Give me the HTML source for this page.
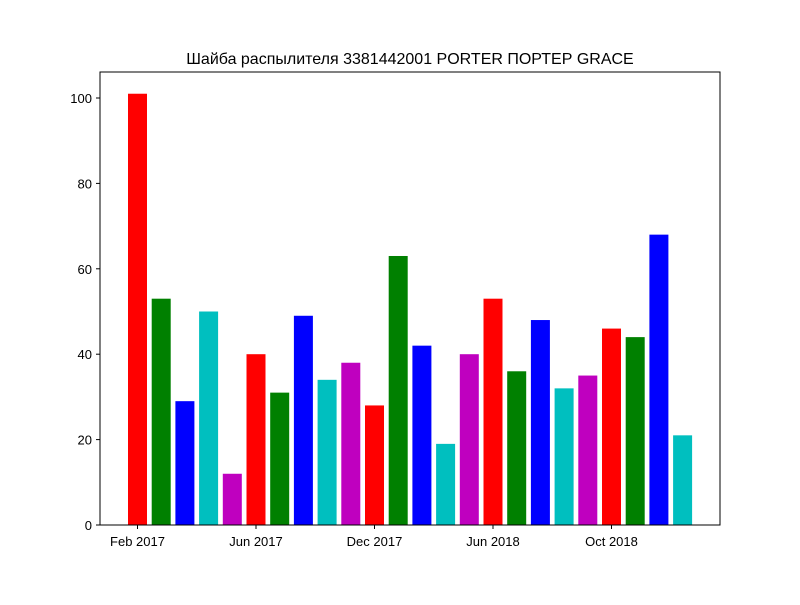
<!DOCTYPE html>
<html><head><meta charset="utf-8"><style>
body{margin:0;background:#fff;}
svg text{font-family:"Liberation Sans","DejaVu Sans",sans-serif;}
</style></head><body>
<svg id="chart" width="800" height="600" xmlns="http://www.w3.org/2000/svg">
<rect width="800" height="600" fill="#fff"/>
<text x="410" y="64" text-anchor="middle" font-size="16">Шайба распылителя 3381442001 PORTER ПОРТЕР GRACE</text>
<g id="bars"></g>
<g id="yaxis"></g>
<g id="xaxis"></g>
<rect x="100" y="72" width="620" height="453" fill="none" stroke="#000" stroke-width="1"/>
</svg>
<script>
const values = [101,53,29,50,12,40,31,49,34,38,28,63,42,19,40,53,36,48,32,35,46,44,68,21];
const colors = ['#ff0000','#008000','#0000ff','#00bfbf','#bf00bf'];
const yTicks = [0,20,40,60,80,100];
const xTickIndex = [0,5,10,15,20];
const xTickLabels = ['Feb 2017','Jun 2017','Dec 2017','Jun 2018','Oct 2018'];
const NS='http://www.w3.org/2000/svg';
const x0=137.5, step=23.7, bw=19, yBase=525, yScale=4.27;
const xs=i=>x0+i*step;
const ys=v=>yBase-v*yScale;
const bars=document.getElementById('bars');
values.forEach((v,i)=>{
  const r=document.createElementNS(NS,'rect');
  r.setAttribute('x',xs(i)-bw/2);r.setAttribute('y',ys(v));
  r.setAttribute('width',bw);r.setAttribute('height',yBase-ys(v));
  r.setAttribute('fill',colors[i%5]);
  
  
  bars.appendChild(r);
});
const ya=document.getElementById('yaxis');
yTicks.forEach(t=>{
  const y=ys(t);
  const l=document.createElementNS(NS,'line');
  l.setAttribute('x1',96);l.setAttribute('x2',100);l.setAttribute('y1',y);l.setAttribute('y2',y);l.setAttribute('stroke','#000');
  
  
  ya.appendChild(l);
  const tx=document.createElementNS(NS,'text');
  tx.setAttribute('x',92);tx.setAttribute('y',y+5);tx.setAttribute('text-anchor','end');tx.setAttribute('font-size','13');
  tx.textContent=t;
  
  
  ya.appendChild(tx);
});
const xa=document.getElementById('xaxis');
xTickIndex.forEach((idx,k)=>{
  const x=xs(idx);
  const l=document.createElementNS(NS,'line');
  l.setAttribute('x1',x);l.setAttribute('x2',x);l.setAttribute('y1',525);l.setAttribute('y2',529);l.setAttribute('stroke','#000');
  
  
  xa.appendChild(l);
  const tx=document.createElementNS(NS,'text');
  tx.setAttribute('x',x);tx.setAttribute('y',546);tx.setAttribute('text-anchor','middle');tx.setAttribute('font-size','13');
  tx.textContent=xTickLabels[k];
  
  
  xa.appendChild(tx);
});
</script>
</body></html>
